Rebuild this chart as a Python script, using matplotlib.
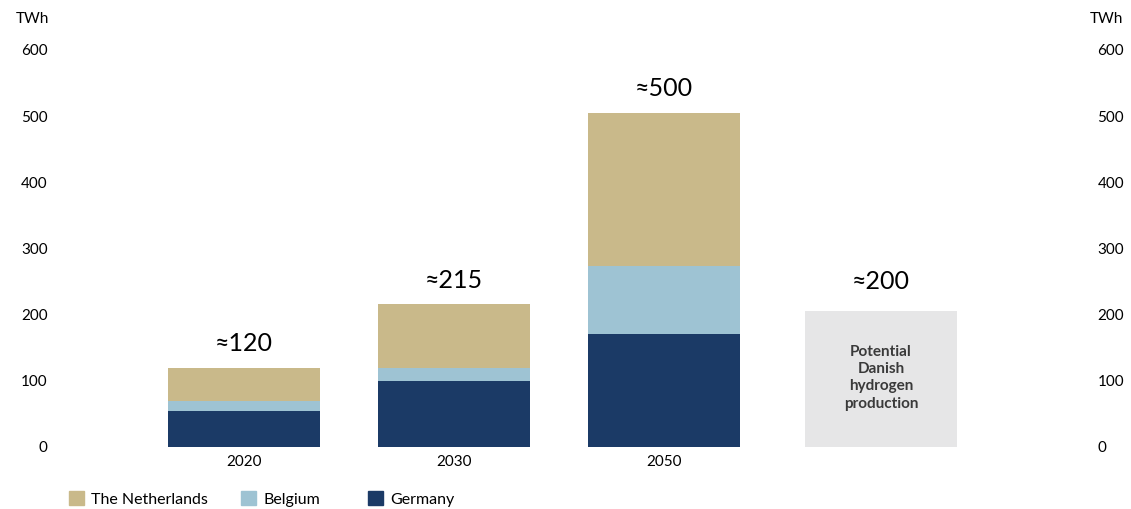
import matplotlib.pyplot as plt
from matplotlib.patches import Patch

# data (TWh)
years = ["2020", "2030", "2050"]
germany = [55, 100, 171]
belgium = [15, 20, 103]
netherlands = [50, 96, 231]
totals_text = ["≈120", "≈215", "≈500"]
danish_value = 205
danish_text = "≈200"
danish_label = "Potential\nDanish\nhydrogen\nproduction"
legend_names = ["The Netherlands", "Belgium", "Germany"]

c_nl = "#c9b98a"
c_be = "#9ec3d3"
c_de = "#1b3a66"
c_dk = "#e6e6e7"

plt.rcParams["font.family"] = ["Lato", "DejaVu Sans"]

fig = plt.figure(figsize=(11.31, 5.09), dpi=100)
ax = fig.add_axes([60 / 1131, 1 - 447 / 509, (1085 - 60) / 1131, (447 - 50) / 509])

x = [0, 1, 2]
w = 0.724
ax.bar(x, germany, width=w, color=c_de)
bottom2 = [g + b for g, b in zip(germany, belgium)]
ax.bar(x, belgium, width=w, bottom=germany, color=c_be)
ax.bar(x, netherlands, width=w, bottom=bottom2, color=c_nl)

for xi, b2, nl, txt in zip(x, bottom2, netherlands, totals_text):
    ax.annotate(txt, (xi, b2 + nl), xytext=(0, 9), textcoords="offset points",
                ha="center", va="bottom", fontsize=18, color="black")

x_dk = 3.033
ax.bar([x_dk], [danish_value], width=w, color=c_dk)
ax.annotate(danish_text, (x_dk, danish_value), xytext=(0, 13), textcoords="offset points",
            ha="center", va="bottom", fontsize=18, color="black")
ax.text(x_dk, danish_value * 0.51, danish_label, ha="center", va="center",
        fontsize=11, fontweight="bold", color="#3a3a3a", linespacing=1.3)

ax.set_ylim(0, 600)
ax.set_xlim(-0.876, 4.005)
ax.set_yticks(range(0, 601, 100))
ax.set_xticks(x)
ax.set_xticklabels(years)
ax.tick_params(axis="y", length=0, labelsize=11, pad=9, labelleft=True, labelright=True)
ax.tick_params(axis="x", length=0, labelsize=11, pad=6)
for s in ax.spines.values():
    s.set_visible(False)

# right tick labels left-aligned
for t in ax.yaxis.get_major_ticks():
    t.label2.set_horizontalalignment("left")

fig.text(16 / 1131, 1 - 19 / 509, "TWh", fontsize=11, va="center", ha="left")
fig.text(1090 / 1131, 1 - 19 / 509, "TWh", fontsize=11, va="center", ha="left")

# legend items placed individually
legend_x = [64, 236, 363]
for name, col, lx in zip(legend_names, [c_nl, c_be, c_de], legend_x):
    fig.legend(handles=[Patch(color=col, label=name)], loc="center left",
               bbox_to_anchor=(lx / 1131, 1 - 499 / 509), frameon=False, fontsize=11.5,
               handlelength=0.95, handleheight=0.95, handletextpad=0.45,
               borderaxespad=0, borderpad=0.3)

fig.savefig("out.png", dpi=100)
